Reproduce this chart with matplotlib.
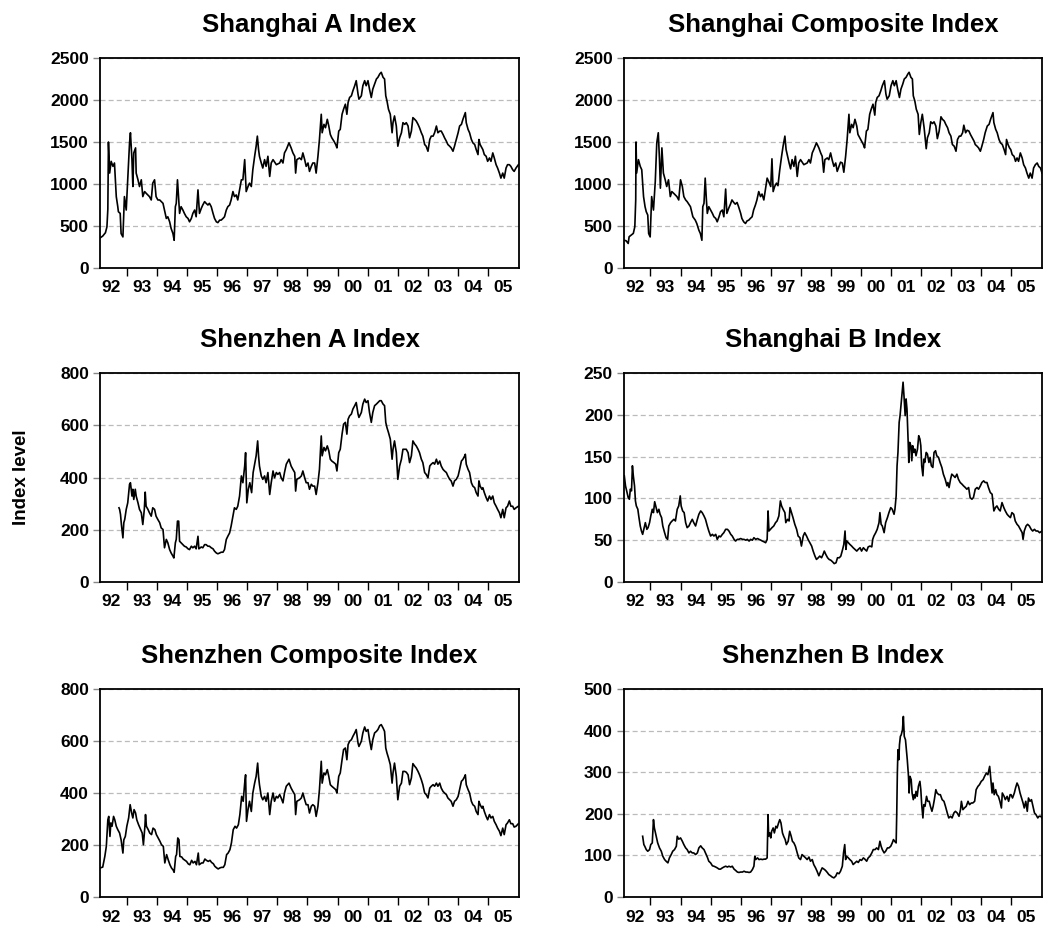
import matplotlib
matplotlib.use("Agg")
import matplotlib.pyplot as plt
from matplotlib.ticker import FixedLocator, NullFormatter, FixedFormatter

plt.rcParams['font.family'] = ['Liberation Sans', 'DejaVu Sans']
plt.rcParams['font.weight'] = 'bold'

# ---------------- data (decimal year, index level) ----------------
sha_t = [1992.13,1992.21,1992.30,1992.35,1992.38,1992.40,1992.44,1992.49,1992.55,1992.60,1992.66,1992.71,1992.73,1992.79,1992.82,1992.88,1992.93,1992.99,
         1993.04,1993.10,1993.13,1993.18,1993.21,1993.24,1993.30,1993.32,1993.38,1993.43,1993.49,1993.54,1993.60,1993.65,1993.76,1993.82,1993.87,1993.93,1993.98,
         1994.04,1994.10,1994.21,1994.32,1994.37,1994.43,1994.48,1994.54,1994.58,1994.62,1994.65,1994.69,1994.73,1994.76,1994.81,1994.87,1994.92,1994.98,
         1995.04,1995.09,1995.15,1995.20,1995.26,1995.31,1995.37,1995.42,1995.48,1995.53,1995.59,1995.64,1995.70,1995.75,1995.81,1995.87,1995.92,1995.98,
         1996.03,1996.09,1996.14,1996.20,1996.25,1996.31,1996.36,1996.42,1996.47,1996.53,1996.58,1996.64,1996.69,1996.75,1996.81,1996.86,1996.92,1996.97,
         1997.03,1997.08,1997.14,1997.19,1997.25,1997.30,1997.34,1997.38,1997.41,1997.47,1997.52,1997.58,1997.63,1997.69,1997.75,1997.80,1997.86,1997.97,
         1998.08,1998.13,1998.19,1998.24,1998.30,1998.39,1998.46,1998.52,1998.58,1998.61,1998.65,1998.74,1998.80,1998.85,1998.91,1998.96,
         1999.02,1999.07,1999.13,1999.18,1999.24,1999.29,1999.35,1999.40,1999.46,1999.49,1999.55,1999.60,1999.66,1999.71,1999.76,1999.81,1999.88,1999.94,1999.98,
         2000.04,2000.09,2000.15,2000.20,2000.26,2000.31,2000.35,2000.40,2000.46,2000.51,2000.57,2000.62,2000.68,2000.71,2000.79,2000.84,2000.90,2000.95,
         2001.01,2001.06,2001.12,2001.17,2001.23,2001.29,2001.34,2001.40,2001.45,2001.51,2001.56,2001.60,2001.64,2001.69,2001.75,2001.81,2001.84,2001.89,2001.95,
         2002.00,2002.06,2002.12,2002.17,2002.23,2002.28,2002.34,2002.39,2002.45,2002.50,2002.56,2002.61,2002.67,2002.72,2002.78,2002.83,2002.89,2002.94,
         2003.00,2003.06,2003.11,2003.17,2003.22,2003.28,2003.33,2003.39,2003.44,2003.50,2003.55,2003.61,2003.66,2003.72,2003.77,2003.83,2003.88,2003.94,
         2004.00,2004.05,2004.11,2004.16,2004.22,2004.24,2004.27,2004.33,2004.38,2004.44,2004.49,2004.55,2004.60,2004.66,2004.69,2004.73,2004.79,2004.82,2004.87,2004.93,2004.98,
         2005.04,2005.09,2005.15,2005.20,2005.26,2005.31,2005.37,2005.42,2005.48,2005.53,2005.59,2005.64,2005.70,2005.75,2005.81,2005.86,2005.92,2006.00]
sha_v = [360,380,420,490,700,1500,1130,1270,1210,1250,850,730,670,650,410,370,850,690,
         1050,1490,1610,1290,970,1370,1430,1130,1050,970,1050,850,910,890,850,810,1010,1050,850,
         810,810,770,590,610,550,470,410,330,730,770,1050,810,650,730,690,650,610,
         590,550,590,650,690,610,930,650,710,750,790,770,750,770,730,650,590,550,
         540,570,570,590,610,690,730,750,810,910,850,870,810,930,1050,1050,1290,910,
         970,1010,970,1170,1330,1450,1570,1410,1330,1250,1190,1290,1210,1330,1090,1250,1290,1230,
         1250,1290,1250,1370,1410,1490,1430,1370,1330,1130,1290,1310,1290,1370,1290,1210,
         1250,1150,1210,1250,1250,1130,1330,1530,1830,1610,1710,1670,1770,1690,1590,1550,1510,1470,1430,
         1630,1650,1830,1890,1950,1830,1970,2030,2050,2110,2170,2230,2070,2010,2050,2170,2230,2170,
         2230,2130,2030,2130,2190,2250,2270,2310,2330,2270,2250,2050,1990,1890,1830,1610,1730,1810,1690,
         1450,1550,1610,1730,1710,1730,1690,1550,1630,1790,1770,1750,1710,1670,1610,1570,1470,1450,
         1390,1530,1570,1570,1610,1690,1610,1630,1630,1590,1550,1510,1470,1450,1430,1390,1450,1530,
         1610,1690,1710,1770,1830,1850,1730,1650,1610,1530,1490,1470,1410,1350,1530,1470,1430,1410,1350,1330,1270,
         1310,1270,1370,1310,1230,1190,1130,1070,1130,1070,1190,1230,1230,1210,1170,1150,1190,1230]

shc_t = [1992.11,1992.19,1992.26,1992.29,1992.36,1992.43,1992.48,1992.51,1992.52,1992.54,1992.60,1992.66,1992.71,1992.77,1992.82,1992.86,1992.91,1992.94,1992.99,
         1993.04,1993.10,1993.16,1993.21,1993.26,1993.30,1993.33,1993.38,1993.43,1993.49,1993.54,1993.60,1993.66,1993.71,1993.77,1993.88,1993.94,
         1994.00,1994.06,1994.11,1994.17,1994.22,1994.33,1994.41,1994.49,1994.54,1994.61,1994.66,1994.71,1994.74,1994.78,1994.82,1994.86,1994.89,1994.94,
         1995.00,1995.06,1995.11,1995.17,1995.22,1995.28,1995.33,1995.39,1995.44,1995.50,1995.54,1995.60,1995.66,1995.71,1995.77,1995.82,1995.88,1995.93,
         1996.00,1996.04,1996.10,1996.16,1996.21,1996.27,1996.32,1996.38,1996.43,1996.49,1996.54,1996.60,1996.66,1996.71,1996.77,1996.82,1996.88,1996.93,
         1997.00,1997.04,1997.08,1997.13,1997.19,1997.24,1997.30,1997.36,1997.41,1997.47,1997.51,1997.56,1997.61,1997.66,1997.71,1997.77,1997.82,1997.88,1997.93,1997.99,
         1998.10,1998.21,1998.27,1998.32,1998.38,1998.43,1998.52,1998.60,1998.66,1998.71,1998.76,1998.80,1998.88,1998.93,1998.99,
         1999.04,1999.10,1999.16,1999.21,1999.27,1999.32,1999.38,1999.43,1999.49,1999.54,1999.60,1999.63,1999.69,1999.74,1999.80,1999.86,1999.90,1999.96,
         2000.02,2000.08,2000.12,2000.18,2000.23,2000.29,2000.34,2000.40,2000.46,2000.49,2000.54,2000.60,2000.66,2000.71,2000.78,2000.83,2000.87,2000.94,
         2001.00,2001.06,2001.11,2001.17,2001.22,2001.28,2001.33,2001.39,2001.44,2001.50,2001.56,2001.60,2001.66,2001.71,2001.74,2001.79,2001.84,2001.90,2001.94,2001.99,
         2002.04,2002.10,2002.17,2002.21,2002.27,2002.32,2002.38,2002.43,2002.49,2002.54,2002.60,2002.66,2002.71,2002.77,2002.82,2002.88,2002.93,2002.99,
         2003.04,2003.10,2003.16,2003.21,2003.27,2003.32,2003.38,2003.42,2003.48,2003.53,2003.59,2003.64,2003.70,2003.76,2003.80,2003.86,2003.91,2003.97,
         2004.02,2004.08,2004.13,2004.20,2004.26,2004.31,2004.37,2004.39,2004.42,2004.48,2004.53,2004.59,2004.64,2004.70,2004.76,2004.81,2004.84,2004.89,2004.94,2004.98,
         2005.03,2005.09,2005.14,2005.19,2005.24,2005.30,2005.36,2005.41,2005.47,2005.52,2005.58,2005.63,2005.69,2005.74,2005.80,2005.86,2005.91,2005.97,2006.02]
shc_v = [332,324,292,372,392,412,492,812,1500,1130,1290,1210,1170,850,730,670,630,410,370,
         850,690,1030,1490,1610,1290,950,1430,1130,1050,970,1050,850,910,890,850,810,
         1050,970,850,810,790,730,610,570,530,450,410,330,730,770,1070,810,650,730,
         690,650,610,590,550,610,670,690,610,940,650,710,760,810,780,760,780,730,
         650,590,550,530,560,570,590,610,690,750,810,910,850,880,810,930,1070,1030,
         970,1300,910,970,1010,980,1170,1330,1450,1570,1410,1330,1250,1180,1290,1210,1330,1090,1250,1290,
         1230,1250,1290,1250,1370,1410,1490,1430,1370,1330,1140,1290,1310,1290,1370,
         1290,1210,1250,1150,1210,1260,1250,1140,1330,1530,1830,1610,1710,1670,1770,1690,1590,1550,
         1510,1470,1430,1630,1650,1830,1890,1950,1820,1970,2030,2050,2110,2170,2230,2070,2010,2050,
         2170,2230,2170,2230,2130,2030,2130,2190,2250,2270,2310,2330,2270,2250,2050,1990,1890,1830,1590,1730,
         1830,1670,1420,1550,1610,1740,1720,1740,1690,1540,1630,1800,1770,1750,1710,1670,1610,1570,
         1470,1450,1390,1530,1570,1570,1610,1700,1610,1640,1630,1590,1550,1510,1470,1450,1430,1390,
         1450,1530,1610,1690,1710,1770,1830,1850,1730,1650,1610,1530,1490,1470,1410,1350,1530,1470,1430,1410,
         1350,1330,1270,1310,1270,1370,1310,1230,1190,1130,1070,1130,1070,1190,1230,1250,1210,1190,1130]

sza_t = [1992.75,1992.77,1992.80,1992.83,1992.88,1992.91,1992.94,1992.99,
         1993.04,1993.10,1993.13,1993.18,1993.21,1993.24,1993.29,1993.32,1993.38,1993.43,1993.49,1993.54,1993.59,1993.62,1993.65,1993.71,1993.76,1993.82,1993.87,1993.93,1993.98,
         1994.04,1994.10,1994.15,1994.21,1994.26,1994.32,1994.37,1994.43,1994.48,1994.54,1994.57,1994.62,1994.65,1994.69,1994.73,1994.76,1994.81,1994.87,1994.92,1994.98,
         1995.04,1995.09,1995.15,1995.20,1995.26,1995.31,1995.37,1995.40,1995.48,1995.53,1995.59,1995.64,1995.70,1995.75,1995.81,1995.87,1995.92,1995.98,
         1996.03,1996.09,1996.14,1996.20,1996.25,1996.31,1996.36,1996.42,1996.47,1996.53,1996.58,1996.64,1996.69,1996.75,1996.81,1996.86,1996.92,1996.95,1996.99,
         1997.04,1997.09,1997.15,1997.20,1997.26,1997.30,1997.35,1997.38,1997.41,1997.47,1997.52,1997.58,1997.63,1997.69,1997.75,1997.80,1997.86,1997.91,1997.97,
         1998.02,1998.08,1998.13,1998.19,1998.24,1998.30,1998.39,1998.46,1998.52,1998.58,1998.61,1998.65,1998.74,1998.80,1998.85,1998.91,1998.96,
         1999.02,1999.07,1999.13,1999.18,1999.24,1999.29,1999.35,1999.40,1999.46,1999.49,1999.55,1999.60,1999.66,1999.71,1999.76,1999.81,1999.88,1999.94,1999.98,
         2000.04,2000.09,2000.15,2000.20,2000.26,2000.31,2000.35,2000.40,2000.46,2000.51,2000.57,2000.62,2000.68,2000.71,2000.79,2000.84,2000.90,2000.95,
         2001.01,2001.06,2001.12,2001.17,2001.23,2001.29,2001.34,2001.40,2001.45,2001.51,2001.56,2001.60,2001.64,2001.69,2001.75,2001.81,2001.84,2001.89,2001.95,
         2002.00,2002.06,2002.12,2002.17,2002.23,2002.28,2002.34,2002.39,2002.45,2002.50,2002.56,2002.61,2002.67,2002.72,2002.78,2002.83,2002.89,2002.94,
         2003.00,2003.06,2003.11,2003.17,2003.22,2003.28,2003.33,2003.39,2003.44,2003.50,2003.55,2003.61,2003.66,2003.72,2003.77,2003.83,2003.88,2003.94,
         2004.00,2004.05,2004.11,2004.16,2004.22,2004.24,2004.27,2004.33,2004.38,2004.44,2004.49,2004.55,2004.60,2004.66,2004.69,2004.73,2004.79,2004.82,2004.87,2004.93,2004.98,
         2005.04,2005.09,2005.15,2005.20,2005.26,2005.31,2005.37,2005.42,2005.48,2005.53,2005.59,2005.64,2005.70,2005.75,2005.81,2005.86,2005.92,2006.00]
sza_v = [284,278,259,220,169,227,239,278,
         303,374,380,329,355,316,355,329,303,278,265,220,278,344,290,278,265,252,284,278,252,
         239,227,207,201,131,163,150,124,111,99,92,150,163,233,233,156,150,143,137,134,
         127,124,137,131,137,127,175,127,134,131,143,143,137,137,131,127,118,111,
         108,111,114,114,124,163,175,188,214,252,284,278,290,329,406,380,444,495,303,
         355,380,342,419,457,483,540,483,444,406,393,406,380,419,335,380,425,399,419,
         412,419,399,387,419,451,470,444,431,419,348,393,399,406,425,399,380,
         380,355,374,367,367,335,380,431,559,483,515,502,521,502,470,463,457,451,425,
         495,508,566,604,611,566,623,636,643,662,675,687,643,630,649,681,700,687,
         694,649,611,649,675,681,687,694,694,681,675,611,591,572,547,470,508,540,495,
         393,444,470,508,508,508,495,457,483,540,528,521,508,495,470,457,419,412,
         399,444,451,457,451,470,451,463,444,431,425,419,406,393,387,367,387,393,
         406,431,463,470,483,489,451,431,419,380,367,361,342,329,387,367,355,361,342,323,310,
         329,316,329,303,290,278,265,246,278,246,284,290,310,290,290,278,284,290]

shb_t = [1992.13,1992.17,1992.21,1992.26,1992.30,1992.33,1992.37,1992.40,1992.43,1992.47,1992.50,1992.53,1992.58,1992.61,1992.66,1992.70,1992.74,1992.79,1992.83,1992.88,1992.92,1992.97,
         1993.01,1993.06,1993.10,1993.14,1993.19,1993.23,1993.28,1993.32,1993.37,1993.41,1993.47,1993.52,1993.57,1993.61,1993.67,1993.72,1993.78,1993.83,1993.89,1993.94,1993.99,
         1994.02,1994.07,1994.12,1994.17,1994.22,1994.28,1994.33,1994.39,1994.44,1994.50,1994.56,1994.61,1994.67,1994.72,1994.78,1994.83,1994.89,1994.94,
         1995.00,1995.06,1995.11,1995.17,1995.22,1995.28,1995.33,1995.39,1995.44,1995.50,1995.56,1995.61,1995.67,1995.72,1995.78,1995.83,1995.89,1995.94,
         1996.00,1996.06,1996.11,1996.17,1996.22,1996.28,1996.33,1996.39,1996.44,1996.50,1996.56,1996.61,1996.67,1996.72,1996.78,1996.83,1996.88,1996.91,1996.94,1996.99,
         1997.04,1997.10,1997.16,1997.21,1997.27,1997.32,1997.36,1997.41,1997.47,1997.50,1997.56,1997.61,1997.64,1997.69,1997.74,1997.80,1997.86,1997.91,1997.97,
         1998.02,1998.08,1998.13,1998.19,1998.24,1998.30,1998.36,1998.41,1998.47,1998.52,1998.58,1998.63,1998.69,1998.74,1998.78,1998.83,1998.89,1998.94,
         1999.00,1999.06,1999.11,1999.17,1999.22,1999.28,1999.33,1999.39,1999.43,1999.47,1999.50,1999.53,1999.58,1999.63,1999.69,1999.74,1999.80,1999.86,1999.91,1999.97,
         2000.02,2000.08,2000.13,2000.19,2000.24,2000.30,2000.36,2000.39,2000.43,2000.49,2000.54,2000.60,2000.63,2000.67,2000.71,2000.77,2000.82,2000.88,2000.93,2000.99,
         2001.04,2001.10,2001.13,2001.17,2001.20,2001.23,2001.27,2001.30,2001.33,2001.37,2001.40,2001.43,2001.47,2001.50,2001.53,2001.57,2001.59,2001.62,2001.66,2001.69,2001.72,2001.76,2001.79,2001.83,2001.88,2001.92,2001.96,2001.99,
         2002.02,2002.06,2002.09,2002.12,2002.17,2002.21,2002.26,2002.30,2002.34,2002.39,2002.43,2002.48,2002.52,2002.58,2002.63,2002.69,2002.74,2002.80,2002.86,2002.89,2002.93,2002.98,
         2003.02,2003.08,2003.13,2003.19,2003.24,2003.30,2003.36,2003.41,2003.47,2003.52,2003.58,2003.63,2003.69,2003.74,2003.80,2003.86,2003.91,2003.97,
         2004.02,2004.08,2004.13,2004.19,2004.24,2004.30,2004.36,2004.39,2004.42,2004.47,2004.52,2004.58,2004.63,2004.69,2004.75,2004.80,2004.86,2004.91,2004.97,
         2005.02,2005.08,2005.13,2005.19,2005.24,2005.30,2005.36,2005.39,2005.43,2005.49,2005.54,2005.60,2005.66,2005.71,2005.77,2005.82,2005.88,2005.94,2006.02]
shb_v = [127,115,109,101,99,111,109,139,127,115,97,91,87,79,67,61,57,65,71,63,65,71,
         79,87,83,96,89,83,87,81,77,67,59,53,51,67,71,73,75,73,87,91,103,
         91,85,83,71,65,67,71,75,71,67,75,81,85,83,79,75,67,61,
         55,57,55,57,51,55,54,57,59,63,63,61,57,55,51,49,51,51,
         52,51,51,50,51,49,51,50,53,51,52,51,50,49,48,47,51,85,61,63,
         65,67,71,73,79,97,91,87,83,71,75,73,89,83,77,69,63,55,53,
         43,55,59,55,51,47,43,37,31,27,29,31,29,33,37,33,29,27,
         26,24,22,23,29,29,31,39,45,61,39,49,47,45,43,41,39,37,39,41,
         37,41,39,37,42,43,42,51,55,59,63,71,83,69,67,59,71,77,83,89,
         87,81,87,103,139,155,191,199,211,227,239,223,199,219,207,167,143,167,163,145,163,155,159,151,159,175,171,163,
         139,127,147,143,155,153,143,149,139,137,155,157,151,149,143,137,129,123,115,119,113,123,
         129,127,125,129,123,119,117,115,113,111,113,101,99,101,111,113,111,115,
         119,121,119,119,113,107,105,95,85,89,91,87,85,95,89,85,81,79,77,
         83,81,73,69,67,63,59,51,61,67,69,67,63,61,63,61,61,59,61]

szc_t = [1992.13,1992.21,1992.28,1992.33,1992.38,1992.41,1992.45,1992.48,1992.52,1992.57,1992.61,1992.66,1992.71,1992.77,1992.82,1992.88,1992.91,1992.96,
         1993.01,1993.07,1993.12,1993.17,1993.21,1993.25,1993.30,1993.34,1993.40,1993.45,1993.52,1993.56,1993.61,1993.63,1993.66,1993.72,1993.77,1993.83,1993.88,1993.94,1993.99,
         1994.05,1994.11,1994.16,1994.22,1994.27,1994.33,1994.38,1994.44,1994.49,1994.55,1994.58,1994.63,1994.66,1994.70,1994.74,1994.77,1994.83,1994.88,1994.94,1994.99,
         1995.05,1995.10,1995.16,1995.21,1995.27,1995.32,1995.38,1995.41,1995.49,1995.54,1995.60,1995.65,1995.71,1995.77,1995.82,1995.88,1995.93,1995.99,
         1996.04,1996.10,1996.15,1996.21,1996.26,1996.32,1996.37,1996.43,1996.48,1996.54,1996.60,1996.65,1996.71,1996.76,1996.82,1996.87,1996.92,1996.95,1996.98,
         1997.03,1997.08,1997.14,1997.19,1997.25,1997.30,1997.35,1997.38,1997.41,1997.47,1997.52,1997.58,1997.63,1997.69,1997.75,1997.80,1997.86,1997.91,1997.97,
         1998.02,1998.08,1998.13,1998.19,1998.24,1998.30,1998.39,1998.46,1998.52,1998.58,1998.61,1998.65,1998.74,1998.80,1998.85,1998.91,1998.96,
         1999.02,1999.07,1999.13,1999.18,1999.24,1999.29,1999.35,1999.40,1999.46,1999.49,1999.55,1999.60,1999.66,1999.71,1999.76,1999.81,1999.88,1999.94,1999.98,
         2000.04,2000.09,2000.15,2000.20,2000.26,2000.31,2000.35,2000.40,2000.46,2000.51,2000.57,2000.62,2000.68,2000.71,2000.79,2000.84,2000.90,2000.95,
         2001.01,2001.06,2001.12,2001.17,2001.23,2001.29,2001.34,2001.40,2001.45,2001.51,2001.56,2001.60,2001.64,2001.69,2001.75,2001.81,2001.84,2001.89,2001.95,
         2002.00,2002.06,2002.12,2002.17,2002.23,2002.28,2002.34,2002.39,2002.45,2002.50,2002.56,2002.61,2002.67,2002.72,2002.78,2002.83,2002.89,2002.94,
         2003.00,2003.06,2003.11,2003.17,2003.22,2003.28,2003.33,2003.39,2003.44,2003.50,2003.55,2003.61,2003.66,2003.72,2003.77,2003.83,2003.88,2003.94,
         2004.00,2004.05,2004.11,2004.16,2004.22,2004.24,2004.27,2004.33,2004.38,2004.44,2004.49,2004.55,2004.60,2004.66,2004.69,2004.73,2004.79,2004.82,2004.87,2004.93,2004.98,
         2005.04,2005.09,2005.15,2005.20,2005.26,2005.31,2005.37,2005.42,2005.48,2005.53,2005.59,2005.64,2005.70,2005.75,2005.81,2005.86,2005.92,2006.00]
szc_v = [112,115,156,195,297,310,233,285,272,310,297,272,259,246,220,169,220,233,
         272,304,355,323,304,336,323,297,278,265,246,201,272,317,272,259,246,240,265,259,240,
         227,214,201,195,131,163,144,124,112,103,95,156,163,227,220,156,154,146,141,137,
         127,124,141,131,137,124,169,124,131,131,146,141,137,141,133,128,118,112,
         108,112,114,114,124,163,169,182,208,259,272,265,278,317,387,368,438,470,291,
         336,368,329,400,438,464,515,464,432,387,374,387,368,400,317,368,400,368,387,
         381,394,381,362,400,426,438,419,406,394,317,368,374,381,400,374,355,
         355,323,349,355,349,310,349,413,522,438,477,470,490,464,432,426,419,413,400,
         464,477,528,567,573,528,586,599,605,618,631,644,592,579,599,631,654,637,
         644,605,567,605,631,637,644,659,663,650,637,573,554,535,509,438,477,515,464,
         374,426,438,483,483,480,470,432,458,513,503,496,483,470,451,432,400,394,
         381,419,426,432,426,438,426,438,419,406,400,394,381,374,368,349,368,374,
         387,413,445,451,464,470,432,413,400,368,355,349,329,317,368,355,342,349,329,310,297,
         317,304,310,291,278,265,253,236,265,240,278,285,297,282,282,269,272,282]

szb_t = [1992.74,1992.78,1992.81,1992.86,1992.91,1992.97,
         1993.01,1993.06,1993.10,1993.13,1993.19,1993.24,1993.30,1993.36,1993.41,1993.47,1993.52,1993.58,1993.63,1993.69,1993.74,1993.80,1993.86,1993.89,1993.94,
         1994.00,1994.06,1994.11,1994.17,1994.22,1994.28,1994.33,1994.39,1994.44,1994.50,1994.56,1994.61,1994.67,1994.72,1994.78,1994.83,1994.89,1994.94,
         1995.00,1995.06,1995.11,1995.17,1995.22,1995.28,1995.33,1995.39,1995.44,1995.50,1995.56,1995.61,1995.67,1995.72,1995.78,1995.83,1995.89,1995.94,
         1996.00,1996.06,1996.11,1996.17,1996.22,1996.28,1996.33,1996.39,1996.44,1996.47,1996.50,1996.56,1996.61,1996.67,1996.72,1996.78,1996.83,1996.88,1996.91,1996.93,1996.97,
         1997.00,1997.03,1997.08,1997.12,1997.17,1997.21,1997.26,1997.30,1997.34,1997.39,1997.43,1997.48,1997.52,1997.58,1997.63,1997.68,1997.72,1997.77,1997.82,1997.88,1997.93,1997.99,
         1998.04,1998.10,1998.16,1998.21,1998.27,1998.32,1998.38,1998.43,1998.49,1998.54,1998.60,1998.66,1998.71,1998.77,1998.82,1998.88,1998.93,1998.99,
         1999.04,1999.10,1999.16,1999.21,1999.27,1999.32,1999.38,1999.42,1999.46,1999.49,1999.52,1999.58,1999.63,1999.69,1999.74,1999.80,1999.86,1999.91,1999.97,
         2000.02,2000.08,2000.13,2000.19,2000.24,2000.30,2000.36,2000.41,2000.47,2000.52,2000.58,2000.63,2000.67,2000.71,2000.77,2000.82,2000.88,2000.93,2000.99,
         2001.04,2001.08,2001.12,2001.17,2001.19,2001.21,2001.23,2001.26,2001.28,2001.31,2001.34,2001.38,2001.41,2001.44,2001.48,2001.51,2001.54,2001.58,2001.60,2001.63,2001.67,2001.70,2001.74,2001.77,2001.80,2001.83,2001.87,2001.91,2001.96,2001.99,
         2002.02,2002.06,2002.09,2002.13,2002.18,2002.22,2002.27,2002.31,2002.36,2002.40,2002.44,2002.49,2002.53,2002.59,2002.64,2002.70,2002.76,2002.81,2002.87,2002.92,2002.98,
         2003.03,2003.09,2003.14,2003.20,2003.26,2003.31,2003.34,2003.39,2003.44,2003.50,2003.56,2003.61,2003.67,2003.72,2003.78,2003.83,2003.89,2003.94,
         2004.00,2004.06,2004.11,2004.17,2004.22,2004.28,2004.31,2004.36,2004.39,2004.43,2004.48,2004.52,2004.57,2004.62,2004.67,2004.70,2004.76,2004.80,2004.86,2004.91,2004.96,2004.99,
         2005.04,2005.10,2005.14,2005.19,2005.24,2005.29,2005.34,2005.39,2005.43,2005.48,2005.53,2005.57,2005.62,2005.67,2005.72,2005.77,2005.82,2005.88,2005.92,2005.98,2006.02]
szb_v = [146,126,122,114,110,114,
         126,130,186,166,146,130,118,110,98,90,86,82,94,102,110,114,122,146,139,
         142,134,126,118,114,106,110,106,106,102,106,118,123,118,114,106,96,86,
         82,75,74,72,70,67,67,70,72,74,72,74,72,74,67,64,60,59,
         60,60,62,60,60,59,60,66,74,98,90,94,90,91,90,91,91,94,198,146,154,
         142,158,166,154,170,166,178,186,178,154,146,138,126,134,158,146,134,130,122,106,94,90,
         102,98,94,90,96,86,90,78,70,62,51,62,70,67,64,59,54,51,
         48,46,50,58,56,62,74,106,126,90,98,94,90,86,78,82,86,83,90,
         88,94,91,86,94,98,106,114,114,118,114,134,122,114,106,110,118,118,122,
         130,138,134,130,202,298,354,330,366,386,390,402,434,386,378,354,330,290,250,290,282,250,234,246,238,254,242,266,278,258,
         222,190,222,218,242,230,230,218,206,218,234,258,250,246,246,234,230,218,202,190,194,
         190,202,206,202,194,210,230,210,214,218,230,222,226,226,230,258,266,270,
         278,282,290,298,294,314,290,250,274,246,258,246,242,230,214,250,242,234,242,230,246,246,
         238,250,262,274,266,250,238,226,214,230,206,238,230,234,218,202,198,190,194,194,190]

year_labels = ['92', '93', '94', '95', '96', '97', '98', '99', '00', '01', '02', '03', '04', '05']
first_year = 1992

panels = [
    ("Shanghai A Index",          sha_t, sha_v, [0, 500, 1000, 1500, 2000, 2500]),
    ("Shanghai Composite Index",  shc_t, shc_v, [0, 500, 1000, 1500, 2000, 2500]),
    ("Shenzhen A Index",          sza_t, sza_v, [0, 200, 400, 600, 800]),
    ("Shanghai B Index",          shb_t, shb_v, [0, 50, 100, 150, 200, 250]),
    ("Shenzhen Composite Index",  szc_t, szc_v, [0, 200, 400, 600, 800]),
    ("Shenzhen B Index",          szb_t, szb_v, [0, 100, 200, 300, 400, 500]),
]

# ---------------- figure ----------------
W, H = 1044, 925
fig = plt.figure(figsize=(W / 100, H / 100), dpi=100)

col_px = [(100, 519), (624, 1042)]
row_px = [(58, 268), (373, 582), (689, 897)]

year_bounds = [first_year + i for i in range(1, len(year_labels))]
year_mids = [first_year + i + 0.5 for i in range(len(year_labels))]

for k, (title, t, v, yt) in enumerate(panels):
    r, c = divmod(k, 2)
    x0, x1 = col_px[c]
    ytop, ybot = row_px[r]
    ax = fig.add_axes([x0 / W, 1 - ybot / H, (x1 - x0) / W, (ybot - ytop) / H])
    ax.plot(t, v, color='black', lw=1.2)
    ax.set_xlim(1992.12, 2006.02)
    ax.set_ylim(yt[0], yt[-1])

    ax.xaxis.set_major_locator(FixedLocator(year_bounds))
    ax.xaxis.set_major_formatter(NullFormatter())
    ax.xaxis.set_minor_locator(FixedLocator(year_mids))
    ax.xaxis.set_minor_formatter(FixedFormatter(year_labels))
    ax.tick_params(axis='x', which='major', direction='out', length=6, width=1.0, color='black')
    ax.tick_params(axis='x', which='minor', length=0, pad=9, labelsize=12.5)

    ax.set_yticks(yt)
    ax.set_yticklabels([str(y) for y in yt])
    ax.tick_params(axis='y', direction='out', length=5, width=1.0, color='#888888', pad=3, labelsize=12.5)
    ax.yaxis.grid(True, linestyle=(0, (4, 2.5)), color='#bbbbbb', lw=0.9)
    ax.set_axisbelow(True)

    for s in ax.spines.values():
        s.set_linewidth(1.3)
        s.set_color('black')

    ax.set_title(title, fontsize=18.5, fontweight='bold', pad=19)

fig.text(22 / W, 1 - 477 / H, "Index level", rotation=90, ha='center', va='center',
         fontsize=13.5, fontweight='bold')

fig.savefig("out.png", dpi=100)
